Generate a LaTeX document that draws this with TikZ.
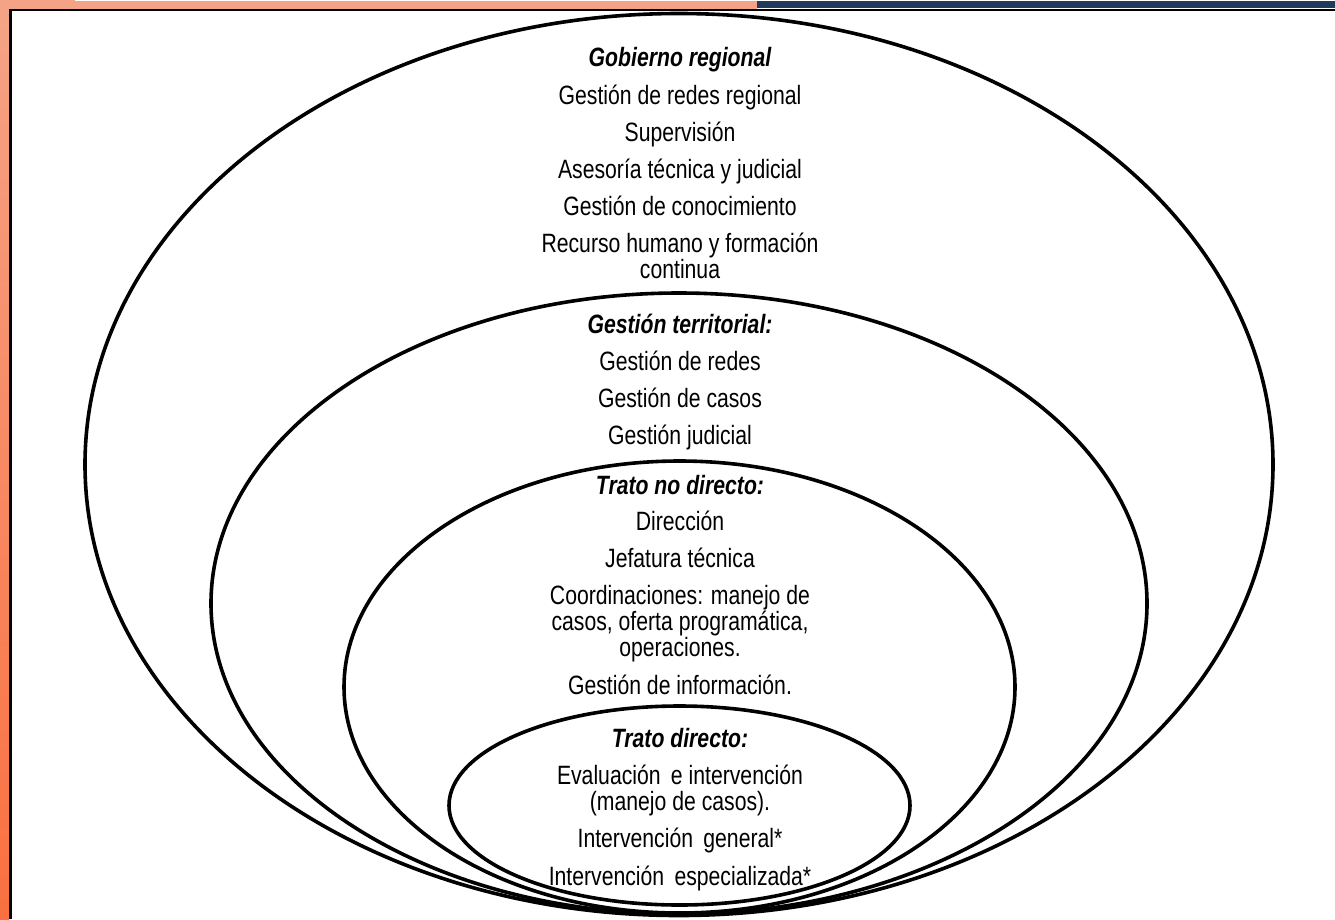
\documentclass[tikz,border=0pt]{standalone}
\usepackage{fontspec}
\setmainfont{Liberation Sans}[FakeStretch=0.8]
\definecolor{salmon}{HTML}{F5A386}
\definecolor{orangeb}{HTML}{FA7040}
\definecolor{navy}{HTML}{203A5E}
\begin{document}
\begin{tikzpicture}[x=1pt,y=-1pt,
  ring/.style={line width=3.6pt, draw=black},
  txt/.style={font=\fontsize{26.5}{26.6}\selectfont, inner sep=0pt, anchor=base},
  hd/.style={txt, font=\fontsize{26.5}{26.6}\selectfont\bfseries\itshape}]
\useasboundingbox (0,0) rectangle (1335,919);
\fill[white] (0,0) rectangle (1335,919);
% frame
\fill[salmon] (0,0) rectangle (75,9);
\fill[salmon] (75,1) rectangle (757,9);
\fill[navy] (757,1) rectangle (1335,8);
\shade[top color=salmon, bottom color=orangeb] (0,9) rectangle (9,919);
\fill[black] (9,8.5) rectangle (1335,11);
\fill[black] (9,9) rectangle (12,919);
% ellipses
\draw[ring] (679,464.5) ellipse [x radius=594pt, y radius=451pt];
\draw[ring] (679,603.5) ellipse [x radius=468pt, y radius=310.5pt];
\draw[ring] (679.5,687) ellipse [x radius=335.5pt, y radius=226pt];
\draw[ring] (679.5,805.5) ellipse [x radius=230.5pt, y radius=99.5pt];
% texts
\node[hd]  (t1)  at (680,66)  {Gobierno regional};
\node[txt] (t2)  at (680,104) {Gestión de redes regional};
\node[txt] (t3)  at (680,141) {Supervisión};
\node[txt] (t4)  at (680,178) {Asesoría técnica y judicial};
\node[txt] (t5)  at (680,215) {Gestión de conocimiento};
\node[txt] (t6)  at (680,252) {Recurso humano y formación};
\node[txt] (t7)  at (680,278) {continua};
\node[hd]  (t8)  at (680,333) {Gestión territorial:};
\node[txt] (t9)  at (680,370) {Gestión de redes};
\node[txt] (t10) at (680,407) {Gestión de casos};
\node[txt] (t11) at (680,444) {Gestión judicial};
\node[hd]  (t12) at (680,494) {Trato no directo:};
\node[txt] (t13) at (680,530) {Dirección};
\node[txt] (t14) at (680,567) {Jefatura técnica};
\node[txt] (t15) at (680,604) {Coordinaciones: manejo de};
\node[txt] (t16) at (680,630) {casos, oferta programática,};
\node[txt] (t17) at (680,656) {operaciones.};
\node[txt] (t18) at (680,694) {Gestión de información.};
\node[hd]  (t19) at (680,747) {Trato directo:};
\node[txt] (t20) at (680,784) {Evaluación\, e intervención};
\node[txt] (t21) at (680,810) {(manejo de casos).};
\node[txt] (t22) at (680,847) {Intervención\, general*};
\node[txt] (t23) at (680,885) {Intervención\, especializada*};
\end{tikzpicture}
\end{document}
